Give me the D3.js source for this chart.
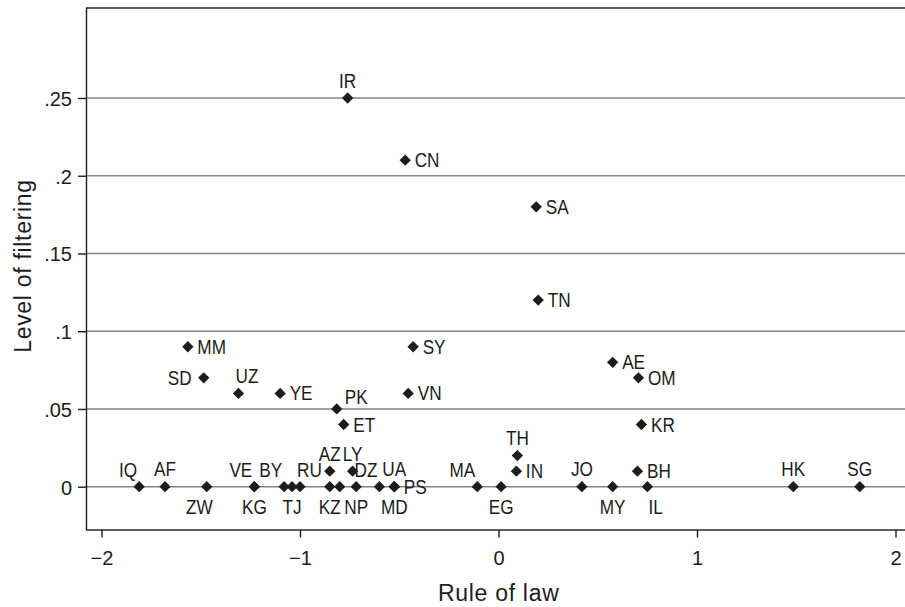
<!DOCTYPE html>
<html>
<head>
<meta charset="utf-8">
<script src="https://cdn.jsdelivr.net/npm/d3@7"></script>
<style>
  html, body { margin: 0; padding: 0; background: #fff; }
  svg { display: block; }
</style>
</head>
<body>
<svg id="chart" width="905" height="607"></svg>
<script>
// ---- Data ----
const countries = ["IR","CN","SA","TN","MM","SY","AE","SD","OM","UZ","YE","VN","PK","ET","KR","TH",
  "AZ","LY","IN","BH",
  "IQ","AF","ZW","VE","KG","BY","TJ","RU","KZ","","NP","DZ","UA","MD","PS","MA","EG","JO","MY","IL","HK","SG"];
const ruleOfLaw = [-0.76,-0.47,0.19,0.20,-1.565,-0.43,0.575,-1.485,0.705,-1.31,-1.10,-0.455,-0.815,-0.78,0.72,0.095,
  -0.85,-0.735,0.09,0.70,
  -1.81,-1.68,-1.47,-1.23,-1.23,-1.08,-1.04,-1.00,-0.85,-0.80,-0.717,-0.60,-0.525,-0.525,-0.525,-0.107,0.013,0.42,0.575,0.75,1.485,1.82];
const filtering = [0.25,0.21,0.18,0.12,0.09,0.09,0.08,0.07,0.07,0.06,0.06,0.06,0.05,0.04,0.04,0.02,
  0.01,0.01,0.01,0.01,
  0,0,0,0,0,0,0,0,0,0,0,0,0,0,0,0,0,0,0,0,0,0];
// marker-label clock positions (0 = no label)
const labelPos = [12,3,3,3,3,3,3,9,3,1,3,3,2,3,3,12,
  12,12,3,3,
  11,12,7,11,6,11,6,1,6,0,6,11,12,6,3,11,6,12,6,5,12,12];

const xTicks = [-2,-1,0,1,2];
const xTickLabels = ["\u22122","\u22121","0","1","2"];
const yTicks = [0,0.05,0.1,0.15,0.2,0.25];
const yTickLabels = ["0",".05",".1",".15",".2",".25"];
const xTitle = "Rule of law";
const yTitle = "Level of filtering";

// ---- Layout ----
const plot = {left: 86.5, top: 8, right: 911, bottom: 530};
const x = d3.scaleLinear().domain([-2, 2]).range([101.5, 895.5]);
const y = d3.scaleLinear().domain([0, 0.25]).range([486.7, 98]);

const svg = d3.select("#chart");
const ink = "#1c1c1c";
const labelFont = "'Liberation Sans',Arial,Helvetica,sans-serif";
const axisFont = "'Liberation Sans',Arial,Helvetica,sans-serif";

// gridlines
svg.append("g").selectAll("line").data(yTicks).join("line")
  .attr("x1", plot.left).attr("x2", plot.right)
  .attr("y1", d => y(d)).attr("y2", d => y(d))
  .attr("stroke", "#858585").attr("stroke-width", 1.4);

// frame
svg.append("rect")
  .attr("x", plot.left).attr("y", plot.top)
  .attr("width", plot.right - plot.left).attr("height", plot.bottom - plot.top)
  .attr("fill", "none").attr("stroke", ink).attr("stroke-width", 1.4);

// axes
const xAxis = d3.axisBottom(x).tickValues(xTicks)
  .tickFormat((d, i) => xTickLabels[i]).tickSize(7.5).tickPadding(13).tickSizeOuter(0);
const gx = svg.append("g").attr("transform", `translate(0,${plot.bottom})`).call(xAxis);
gx.select(".domain").remove();
gx.selectAll(".tick line").attr("stroke", ink).attr("stroke-width", 1.4);
gx.selectAll(".tick text").attr("fill", ink).style("font-family", axisFont).style("font-size", "20px");

const yAxis = d3.axisLeft(y).tickValues(yTicks)
  .tickFormat((d, i) => yTickLabels[i]).tickSize(8.5).tickPadding(6).tickSizeOuter(0);
const gy = svg.append("g").attr("transform", `translate(${plot.left},0)`).call(yAxis);
gy.select(".domain").remove();
gy.selectAll(".tick line").attr("stroke", ink).attr("stroke-width", 1.4);
gy.selectAll(".tick text").attr("fill", ink).attr("dy", "0.37em")
  .style("font-family", axisFont).style("font-size", "20px");

// axis titles
svg.append("text")
  .attr("x", (plot.left + plot.right) / 2).attr("y", 601)
  .attr("text-anchor", "middle").attr("fill", ink)
  .style("font-family", axisFont).style("font-size", "23px").style("letter-spacing", "0.7px")
  .text(xTitle);
svg.append("text")
  .attr("transform", `translate(31,${(plot.top + plot.bottom) / 2 - 3}) rotate(-90)`)
  .attr("text-anchor", "middle").attr("fill", ink)
  .style("font-family", axisFont).style("font-size", "23px").style("letter-spacing", "0.7px")
  .text(yTitle);

// points
const data = countries.map((c, i) => ({c, rx: ruleOfLaw[i], fy: filtering[i], pos: labelPos[i]}));
const diamond = d3.symbol().type(d3.symbolSquare).size(64);
svg.append("g").selectAll("path").data(data).join("path")
  .attr("d", diamond)
  .attr("transform", d => `translate(${x(d.rx)},${y(d.fy)}) rotate(45)`)
  .attr("fill", ink);

// labels by clock position (condensed look via horizontal scaling)
const placement = {
  12: ["middle", 0, -10.5],
  11: ["end", -2, -10],
  1:  ["start", -3, -10],
  2:  ["start", 8, -5],
  3:  ["start", 9.5, 7],
  9:  ["end", -12, 7],
  6:  ["middle", 0, 27],
  7:  ["end", 6, 27],
  5:  ["start", 1, 27]
};
svg.append("g").selectAll("text").data(data.filter(d => d.pos && d.c)).join("text")
  .attr("transform", d => `translate(${x(d.rx) + placement[d.pos][1]},${y(d.fy) + placement[d.pos][2]}) scale(0.86,1)`)
  .attr("text-anchor", d => placement[d.pos][0])
  .attr("fill", ink)
  .style("font-family", labelFont).style("font-size", "20px")
  .text(d => d.c);
</script>
</body>
</html>
